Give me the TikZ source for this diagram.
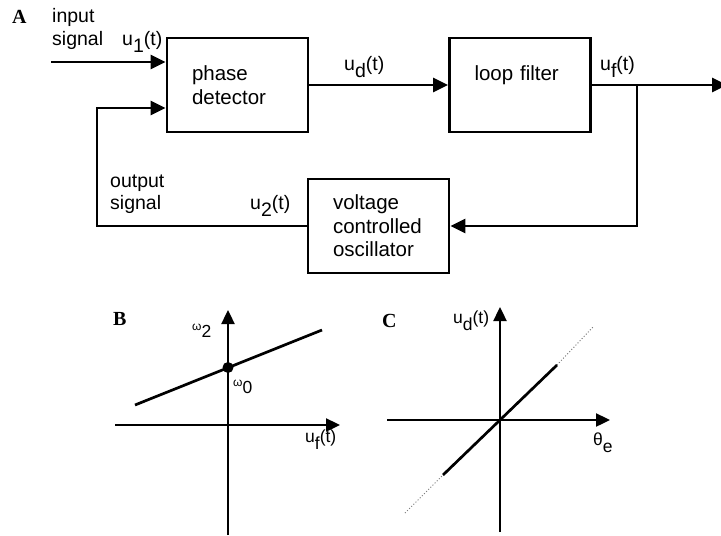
\documentclass[tikz,border=0pt]{standalone}
\usepackage{fontspec}
\setmainfont{Liberation Sans}
\newfontfamily\panelfont{Liberation Serif}
\usetikzlibrary{arrows.meta}
\newcommand{\lowsub}[1]{\raisebox{-7pt}{#1}}
\newcommand{\raisegr}[1]{\raisebox{7pt}{\fontsize{12}{12}\selectfont #1}}

\begin{document}
\begin{tikzpicture}[x=1pt,y=-1pt,
  blk/.style={draw,line width=2.7pt,minimum width=141pt,minimum height=94pt,
    inner xsep=25pt,text width=91pt,align=left,font=\fontsize{20.5}{23.5}\selectfont},
  lbl/.style={anchor=base west,inner sep=0pt,font=\fontsize{19.5}{23}\selectfont},
  axlbl/.style={lbl,font=\fontsize{17.5}{21}\selectfont},
  panel/.style={anchor=base west,inner sep=0pt,font=\panelfont\bfseries\fontsize{20}{20}\selectfont},
  wire/.style={line width=2.7pt},
  arr/.style={wire,-{Triangle[length=15pt,width=14pt]}},
  axis/.style={line width=2.4pt,-{Triangle[length=14pt,width=13pt]}}]
\useasboundingbox (0,0) rectangle (721,536);

% A: the loop
\node[panel] (tagA) at (12,23) {A};
\node[blk] (pd) at (237.5,85) {phase\\detector};
\node[blk] (lf) at (520,85) {loop filter\\\mbox{}};
\node[blk] (vco) at (378.5,226) {voltage\\controlled\\oscillator};

\coordinate (in) at (51,62);
\coordinate (fb) at (97,108);
\coordinate (br) at (637,85);
\coordinate (out) at (727,85);

\draw[arr] (in) -- (in -| pd.west);
\draw[arr] (pd.east) -- (lf.west);
\draw[arr] (lf.east) -- (out);
\draw[arr] (br) |- (vco.east);
\draw[arr] (vco.west) -| (fb) -- (fb -| pd.west);

\node[lbl] (inlab) at (52,22) {input};
\node[lbl] (insig) at (52,45) {signal};
\node[lbl] (uone) at (122,45) {u\lowsub{1}(t)};
\node[lbl] (outlab) at (110,187) {output};
\node[lbl] (outsig) at (110,209) {signal};
\node[lbl] (utwo) at (250,209) {u\lowsub{2}(t)};
\node[lbl] (ud) at (344,70) {u\lowsub{d}(t)};
\node[lbl] (uf) at (600,70) {u\lowsub{f}(t)};

% B: oscillator characteristic
\node[panel] (tagB) at (113,325) {B};
\draw[axis] (228,535) -- (228,310);
\draw[axis] (115,425) -- (340,425);
\draw[wire] (135,405) -- (322,330);
\fill (228,367.5) circle (5.5);
\node[axlbl] (wtwo) at (192,337) {\raisegr{ω}2};
\node[axlbl] (wzero) at (233,393) {\raisegr{ω}0};
\node[axlbl] (ufB) at (305,442) {u\lowsub{f}(t)};

% C: detector characteristic
\node[panel] (tagC) at (382,327) {C};
\draw[axis] (500,532) -- (500,307);
\draw[axis] (387,420) -- (610,420);
\draw[gray,line width=1pt,dotted] (405,513) -- (443,475);
\draw[gray,line width=1pt,dotted] (557,365) -- (593,327);
\draw[wire] (443,475) -- (557,365);
\node[axlbl] (udC) at (453,323) {u\lowsub{d}(t)};
\node[axlbl] (the) at (593,445) {θ\lowsub{e}};
\end{tikzpicture}
\end{document}
